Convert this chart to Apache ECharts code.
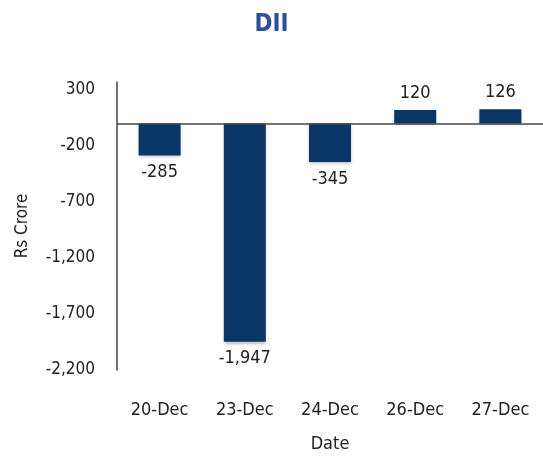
<!DOCTYPE html>
<html><head><meta charset="utf-8">
<script src="https://cdn.jsdelivr.net/npm/echarts@6/dist/echarts.min.js"></script>
<style>html,body{margin:0;padding:0;background:#fff}#c{width:543px;height:459px}</style>
</head><body><div id="c"></div>
<script>
var categories = ['20-Dec','23-Dec','24-Dec','26-Dec','27-Dec'];
var values = [-285, -1947, -345, 120, 126];
var FONT = "'Liberation Sans Narrow','DejaVu Sans Condensed','Roboto Condensed',sans-serif";
function fmt(v){ return Number(v).toLocaleString('en-US'); }
var chart = echarts.init(document.getElementById('c'), null, {renderer:'canvas'});
chart.setOption({
  animation:false,
  title:{text:'DII', left:'center', top:8, textStyle:{fontFamily:FONT, fontWeight:'bold', fontSize:24, color:'#2d4f9c'}},
  grid:{left:117, right:0, top:82, bottom:89, containLabel:false},
  xAxis:{type:'category', data:categories, position:'bottom',
    name:'Date', nameLocation:'middle', nameGap:65,
    nameTextStyle:{fontFamily:FONT, fontSize:18, color:'#222'},
    axisLine:{show:false}, axisTick:{show:false},
    axisLabel:{fontFamily:FONT, fontSize:18, color:'#222', margin:31}},
  yAxis:{type:'value', min:-2200, max:370, interval:500,
    name:'Rs Crore', nameLocation:'middle', nameGap:86, nameRotate:90,
    nameTextStyle:{fontFamily:FONT, fontSize:17, color:'#222'},
    axisLine:{show:true, lineStyle:{color:'#444', width:1.5}},
    axisTick:{show:false}, splitLine:{show:false},
    axisLabel:{fontFamily:FONT, fontSize:17, color:'#222', margin:22, showMaxLabel:false,
      formatter:function(v){return fmt(v);}}},
  series:[{type:'bar', data:values, barWidth:42,
    itemStyle:{color:'#0a3665', shadowBlur:3, shadowColor:'rgba(0,0,0,0.25)', shadowOffsetY:2},
    label:{show:true, position:'outside', fontFamily:FONT, fontSize:18, color:'#222', distance:8,
      formatter:function(p){return fmt(p.value);}},
    markLine:{silent:true, symbol:'none', label:{show:false},
      lineStyle:{color:'#444', width:1.5, type:'solid'}, data:[{yAxis:0}]}
  }]
});
</script></body></html>
